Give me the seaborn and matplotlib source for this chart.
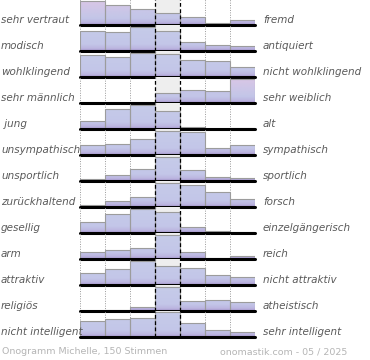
import numpy as np
import pandas as pd
import matplotlib
matplotlib.use("Agg")
import matplotlib.pyplot as plt
from matplotlib.colors import LinearSegmentedColormap
import seaborn as sns

# Onogramm: 13 Eigenschaftspaare, 7 Stufen je Zeile
left_labels = ["sehr vertraut", "modisch", "wohlklingend", "sehr männlich", " jung",
               "unsympathisch", "unsportlich", "zurückhaltend", "gesellig", "arm",
               "attraktiv", "religiös", "nicht intelligent"]
right_labels = ["fremd", "antiquiert", "nicht wohlklingend", "sehr weiblich", "alt",
                "sympathisch", "sportlich", "forsch", "einzelgängerisch", "reich",
                "nicht attraktiv", "atheistisch", "sehr intelligent"]
steps = [1, 2, 3, 4, 5, 6, 7]

# relative Anteile je Stufe
vertraut = [24, 20, 16, 12, 8, 1.5, 5]
modisch = [20, 18.7, 24, 20, 8.7, 5.7, 5.3]
wohlklingend = [21.7, 20, 24, 22.3, 16.7, 16.3, 9.7]
maennlich = [0, 0, 0, 10.3, 13.3, 11.7, 24]
jung = [7.7, 19.3, 24, 17.3, 2.3, 0.3, 1]
sympathisch = [9.3, 11, 15.3, 24, 23, 7, 9.3]
sportlich = [2.3, 5.7, 11.7, 24, 10.7, 4, 2.7]
forsch = [1.7, 6, 10, 24, 22, 14.7, 8]
gesellig = [10.7, 18.3, 24, 20.8, 5.3, 1.7, 1]
arm = [7, 9, 10.3, 24, 7, 1, 2.3]
attraktiv = [11.7, 16, 24, 18.8, 16.3, 10, 8]
religioes = [0, 0.3, 3.3, 24, 9.3, 10.3, 8.3]
intelligent = [15.7, 17.3, 18.7, 24, 14, 6.7, 4.7]

rows = [vertraut, modisch, wohlklingend, maennlich, jung, sympathisch, sportlich,
        forsch, gesellig, arm, attraktiv, religioes, intelligent]

W, H = 370, 360
fig = plt.figure(figsize=(W / 100, H / 100), dpi=100)
sns.set_style("white")
plt.rcParams["font.family"] = ["DejaVu Sans"]

pink_tints = {(0, 0): "#dcc6e6", (0, 1): "#d8c6e6", (0, 2): "#d0c6e8",
              (0, 3): "#c8c4e8", (0, 4): "#c6c4e8", (0, 5): "#c6c4e8", (0, 6): "#c6c4e8",
              (3, 3): "#c8c0e6", (3, 4): "#c8c0e6", (3, 5): "#c8c0e6", (3, 6): "#dcc6e6"}


def bar_cmap(tint):
    return LinearSegmentedColormap.from_list(
        "g", [(0, "#a898d0"), (0.1, "#bcb6e0"), (0.25, "#c3c6e8"), (1, tint)])


x0, x1 = 80, 255
first_base, step = 25.0, 25.97
for i, vals in enumerate(rows):
    base = first_base + step * i
    ax = fig.add_axes([x0 / W, 1 - base / H, (x1 - x0) / W, step / H])
    df = pd.DataFrame({"stufe": steps, "wert": vals})
    sns.barplot(data=df, x="stufe", y="wert", ax=ax, color="#c4c9e8", width=1.0,
                edgecolor="#9c9c9c", linewidth=0.8, saturation=1, zorder=2)
    ymax = max(vals) / 0.93
    ax.set_ylim(0, ymax)
    ax.set_xlim(-0.5, 6.5)
    # Verlauf in den Balken
    grad = np.linspace(0, 1, 128).reshape(-1, 1)
    for j, p in enumerate(ax.containers[0].patches):
        bx, bw, bh = p.get_x(), p.get_width(), p.get_height()
        if bh <= 0:
            continue
        cmap = bar_cmap(pink_tints.get((i, j), "#c6cce9"))
        im = ax.imshow(grad, cmap=cmap, origin="lower", aspect="auto",
                       extent=[bx, bx + bw, 0, ymax], zorder=2.5, vmin=0, vmax=1)
        im.set_clip_path(p)
        p.set_facecolor("none")
        p.set_zorder(3)
    ax.axvspan(2.5, 3.5, color="#eeeeee", zorder=0, lw=0)
    ax.set_ylim(0, ymax)
    ax.set_xlim(-0.5, 6.5)
    for xv in [-0.5, 0.5, 1.5, 4.5, 5.5, 6.5]:
        ax.axvline(xv, color="#999999", ls=(0, (1, 1.5)), lw=0.7, zorder=1)
    for xv in [2.5, 3.5]:
        ax.axvline(xv, color="black", ls=(0, (3, 2)), lw=0.9, zorder=4)
    ax.axhline(0, color="black", lw=2.2, zorder=5, clip_on=False)
    ax.axis("off")
    fig.text(1 / W, 1 - (base - 5) / H, left_labels[i], ha="left", va="center",
             fontsize=7.5, style="italic", color="#5a5a5a")
    fig.text(263 / W, 1 - (base - 5) / H, right_labels[i], ha="left", va="center",
             fontsize=7.5, style="italic", color="#5a5a5a")

fig.text(2 / W, 1 - 352 / H, "Onogramm Michelle, 150 Stimmen", ha="left", va="center",
         fontsize=6.8, color="#b5b5b5")
fig.text(347 / W, 1 - 352 / H, "onomastik.com - 05 / 2025", ha="right", va="center",
         fontsize=6.8, color="#b5b5b5")

fig.savefig("out.png", dpi=100)
